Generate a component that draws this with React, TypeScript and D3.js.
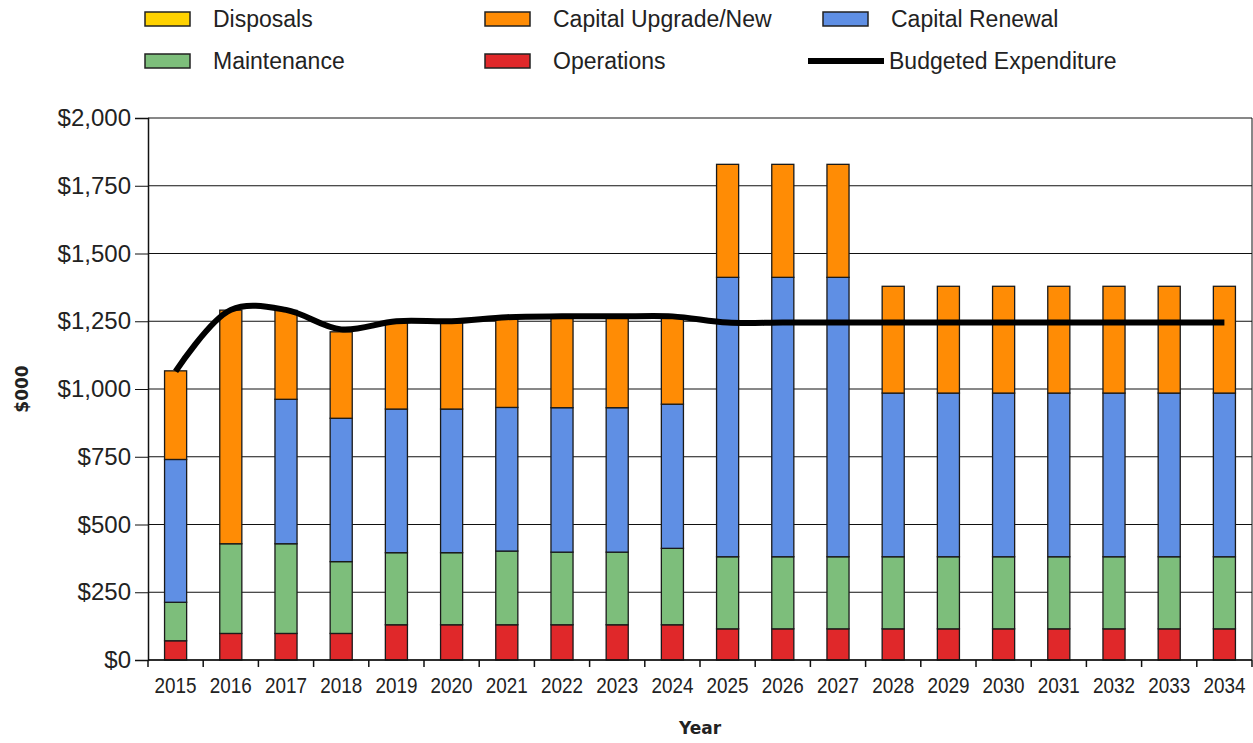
import { useEffect, useRef } from 'react';
import * as d3 from 'd3';

// Years on the x axis
const years: string[] = ['2015', '2016', '2017', '2018', '2019', '2020', '2021', '2022', '2023', '2024',
    '2025', '2026', '2027', '2028', '2029', '2030', '2031', '2032', '2033', '2034'];

// Stacked series values ($000), bottom to top
const operations: number[] = [71, 98, 98, 98, 130, 130, 130, 130, 130, 130, 115, 115, 115, 115, 115, 115, 115, 115, 115, 115];
const maintenance: number[] = [142, 331, 331, 265, 266, 266, 272, 268, 268, 282, 266, 266, 266, 266, 266, 266, 266, 266, 266, 266];
const capitalRenewal: number[] = [527, 0, 533, 529, 530, 530, 530, 533, 533, 532, 1031, 1031, 1031, 604, 604, 604, 604, 604, 604, 604];
const capitalUpgrade: number[] = [327, 862, 328, 319, 325, 325, 326, 330, 330, 318, 417, 417, 417, 394, 394, 394, 394, 394, 394, 394];
const disposals: number[] = [0, 0, 0, 0, 0, 0, 0, 0, 0, 0, 0, 0, 0, 0, 0, 0, 0, 0, 0, 0];

// Budgeted expenditure line
const budgeted: number[] = [1065, 1292, 1292, 1220, 1250, 1250, 1265, 1268, 1268, 1268, 1245, 1245, 1245, 1245, 1245, 1245, 1245, 1245, 1245, 1245];

// Y tick values
const yTicks: number[] = [0, 250, 500, 750, 1000, 1250, 1500, 1750, 2000];

interface Series {
    key: string;
    label: string;
    color: string;
    values: number[];
}

const series: Series[] = [
    { key: 'ops', label: 'Operations', color: '#E0282A', values: operations },
    { key: 'maint', label: 'Maintenance', color: '#7DBE7B', values: maintenance },
    { key: 'renew', label: 'Capital Renewal', color: '#5F8FE4', values: capitalRenewal },
    { key: 'upgrade', label: 'Capital Upgrade/New', color: '#FF8C05', values: capitalUpgrade },
    { key: 'disp', label: 'Disposals', color: '#FFD200', values: disposals },
];

export default function App() {
    const svgRef = useRef<SVGSVGElement | null>(null);

    useEffect(() => {
        if (!svgRef.current) return;
        document.body.style.margin = '0';

        const svg = d3.select(svgRef.current);
        svg.selectAll('*').remove();

        const width = 1253;
        const height = 743;
        const margin = { top: 118, right: 1, bottom: 83, left: 148 };
        const innerWidth = width - margin.left - margin.right;
        const innerHeight = height - margin.top - margin.bottom;
        const font = '"Liberation Sans", Arial, sans-serif';

        const g = svg.append('g').attr('transform', `translate(${margin.left},${margin.top})`);

        // Scales
        const x = d3.scaleBand<string>().domain(years).range([0, innerWidth]).paddingInner(0.6).paddingOuter(0.3);
        const y = d3.scaleLinear().domain([0, 2000]).range([innerHeight, 0]);

        // Gridlines
        g.append('g')
            .selectAll('line')
            .data(yTicks)
            .join('line')
            .attr('x1', 0)
            .attr('x2', innerWidth)
            .attr('y1', d => y(d))
            .attr('y2', d => y(d))
            .attr('stroke', '#111')
            .attr('stroke-width', 1);

        // Stacked bars
        const rows = years.map((yr, i) => {
            const r: Record<string, number | string> = { year: yr };
            series.forEach(s => { r[s.key] = s.values[i]; });
            return r;
        });
        const stack = d3.stack<Record<string, number | string>>().keys(series.map(s => s.key));
        const stacked = stack(rows as any);

        stacked.forEach((layer, li) => {
            g.append('g')
                .selectAll('rect')
                .data(layer.filter(d => d[1] - d[0] > 0))
                .join('rect')
                .attr('x', d => x(d.data.year as string)!)
                .attr('width', x.bandwidth())
                .attr('y', d => y(d[1]))
                .attr('height', d => y(d[0]) - y(d[1]))
                .attr('fill', series[li].color)
                .attr('stroke', '#1a1a1a')
                .attr('stroke-width', 1.3);
        });

        // Budgeted expenditure line
        const line = d3.line<number>()
            .x((_, i) => x(years[i])! + x.bandwidth() / 2)
            .y(d => y(d))
            .curve(d3.curveCatmullRom.alpha(0.5));
        g.append('path')
            .datum(budgeted)
            .attr('d', line)
            .attr('fill', 'none')
            .attr('stroke', '#000')
            .attr('stroke-width', 6);

        // Right frame border
        g.append('line')
            .attr('x1', innerWidth).attr('x2', innerWidth)
            .attr('y1', 0).attr('y2', innerHeight)
            .attr('stroke', '#111');

        // Y axis
        const yAxis = g.append('g').call(d3.axisLeft(y).tickValues(yTicks).tickSize(13).tickPadding(4)
            .tickFormat(d => '$' + d3.format(',')(d as number)));
        yAxis.select('.domain').attr('stroke', '#111').attr('stroke-width', 1.5);
        yAxis.selectAll('.tick line').attr('stroke', '#111');
        yAxis.selectAll('text').attr('font-family', font).attr('font-size', 24).attr('fill', '#222');

        // X axis with ticks at category boundaries
        const xAxis = g.append('g').attr('transform', `translate(0,${innerHeight})`);
        xAxis.append('line').attr('x1', 0).attr('x2', innerWidth).attr('stroke', '#111').attr('stroke-width', 1.5);
        const step = x.step();
        const x0 = x(years[0])! - x.paddingOuter() * step;
        xAxis.selectAll('line.tk')
            .data(d3.range(years.length + 1))
            .join('line')
            .attr('class', 'tk')
            .attr('x1', i => x0 + i * step)
            .attr('x2', i => x0 + i * step)
            .attr('y1', 0)
            .attr('y2', 7)
            .attr('stroke', '#111')
            .attr('stroke-width', 1.5);
        xAxis.selectAll('text')
            .data(years)
            .join('text')
            .attr('x', d => x(d)! + x.bandwidth() / 2)
            .attr('y', 33)
            .attr('text-anchor', 'middle')
            .attr('font-family', font)
            .attr('font-size', 22)
            .attr('textLength', 42)
            .attr('lengthAdjust', 'spacingAndGlyphs')
            .attr('fill', '#222')
            .text(d => d);

        // Axis titles
        svg.append('text')
            .attr('x', margin.left + innerWidth / 2)
            .attr('y', 734)
            .attr('text-anchor', 'middle')
            .attr('font-family', '"DejaVu Sans", Verdana, sans-serif')
            .attr('font-weight', 'bold')
            .attr('font-size', 17)
            .attr('fill', '#222')
            .text('Year');
        svg.append('text')
            .attr('transform', `translate(28,${margin.top + innerHeight / 2}) rotate(-90)`)
            .attr('text-anchor', 'middle')
            .attr('font-family', '"DejaVu Sans", Verdana, sans-serif')
            .attr('font-weight', 'bold')
            .attr('font-size', 17)
            .attr('fill', '#222')
            .text('$000');

        // Legend
        const legendItems = [
            { label: 'Disposals', color: '#FFD200', kind: 'rect', x: 145, y: 19 },
            { label: 'Capital Upgrade/New', color: '#FF8C05', kind: 'rect', x: 485, y: 19 },
            { label: 'Capital Renewal', color: '#5F8FE4', kind: 'rect', x: 823, y: 19 },
            { label: 'Maintenance', color: '#7DBE7B', kind: 'rect', x: 145, y: 61 },
            { label: 'Operations', color: '#E0282A', kind: 'rect', x: 485, y: 61 },
            { label: 'Budgeted Expenditure', color: '#000', kind: 'line', x: 808, y: 61 },
        ];
        const lg = svg.append('g');
        legendItems.forEach(it => {
            if (it.kind === 'rect') {
                lg.append('rect')
                    .attr('x', it.x).attr('y', it.y - 7)
                    .attr('width', 45).attr('height', 14)
                    .attr('fill', it.color)
                    .attr('stroke', '#222').attr('stroke-width', 1.5);
                lg.append('text')
                    .attr('x', it.x + 68).attr('y', it.y + 8)
                    .attr('font-family', font).attr('font-size', 23).attr('fill', '#222')
                    .text(it.label);
            } else {
                lg.append('line')
                    .attr('x1', it.x).attr('x2', it.x + 76)
                    .attr('y1', it.y).attr('y2', it.y)
                    .attr('stroke', it.color).attr('stroke-width', 6);
                lg.append('text')
                    .attr('x', it.x + 81).attr('y', it.y + 8)
                    .attr('font-family', font).attr('font-size', 23).attr('fill', '#222')
                    .text(it.label);
            }
        });

        return () => { svg.selectAll('*').remove(); };
    }, []);

    return <svg ref={svgRef} width={1253} height={743} style={{ display: 'block', background: '#fff' }}></svg>;
}
